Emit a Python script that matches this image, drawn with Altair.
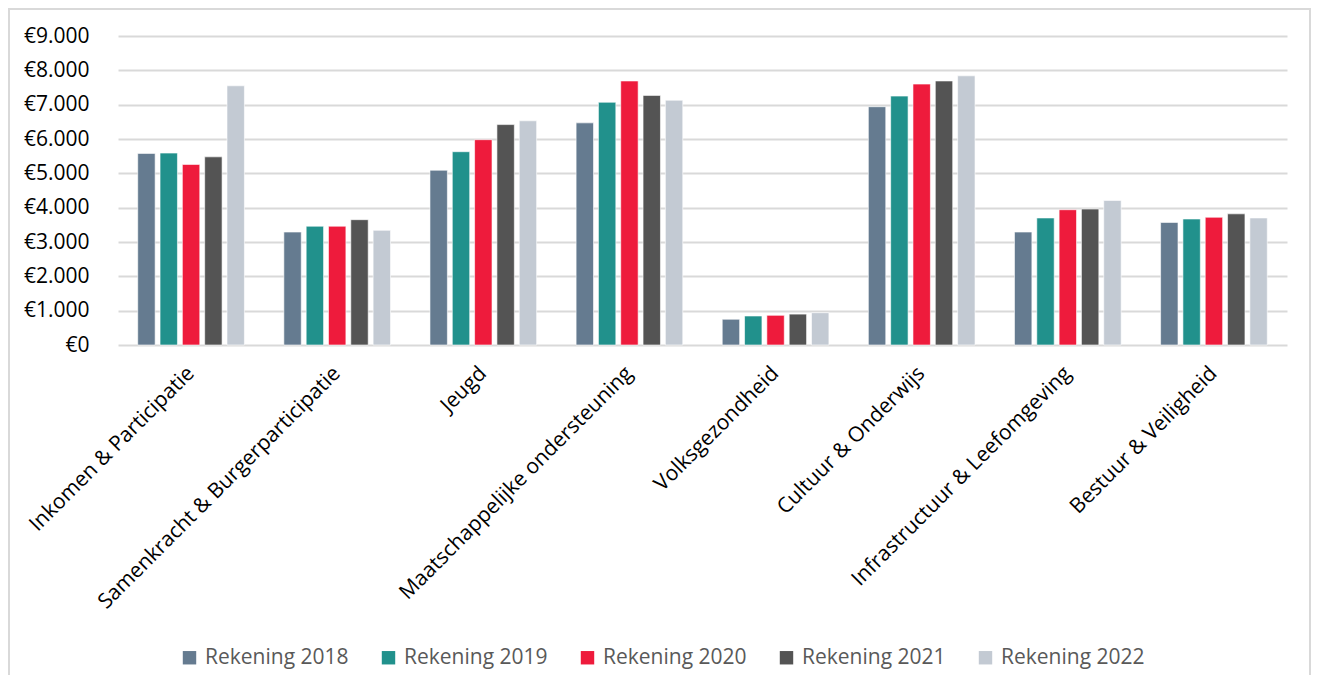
import altair as alt
import pandas as pd

categories = [
    "Inkomen & Participatie",
    "Samenkracht & Burgerparticipatie",
    "Jeugd",
    "Maatschappelijke ondersteuning",
    "Volksgezondheid",
    "Cultuur & Onderwijs",
    "Infrastructuur & Leefomgeving",
    "Bestuur & Veiligheid",
]
series = ["Rekening 2018", "Rekening 2019", "Rekening 2020", "Rekening 2021", "Rekening 2022"]
colors = ["#657B90", "#21918C", "#EE1B3C", "#545454", "#C3CAD3"]

r2018 = [5580, 3290, 5090, 6470, 750, 6940, 3290, 3570]
r2019 = [5590, 3460, 5630, 7070, 845, 7250, 3700, 3670]
r2020 = [5260, 3460, 5980, 7690, 865, 7600, 3940, 3720]
r2021 = [5480, 3650, 6420, 7270, 900, 7690, 3960, 3820]
r2022 = [7550, 3340, 6530, 7130, 940, 7840, 4210, 3700]

rows = []
for s, vals in zip(series, [r2018, r2019, r2020, r2021, r2022]):
    for c, v in zip(categories, vals):
        rows.append({"categorie": c, "reeks": s, "waarde": v})
df = pd.DataFrame(rows)

FONT = "Open Sans"

bars = alt.Chart(df).mark_bar(stroke="white", strokeWidth=0.6).encode(
    x=alt.X(
        "categorie:N",
        sort=categories,
        scale=alt.Scale(paddingInner=0.27, paddingOuter=0.135),
        axis=alt.Axis(
            title=None,
            labelAngle=-45,
            labelAlign="right",
            labelBaseline="middle",
            labelPadding=25,
            ticks=False,
            domain=False,
            labelFont=FONT,
            labelFontSize=21,
            labelColor="#000000",
            labelLimit=400,
        ),
    ),
    xOffset=alt.XOffset("reeks:N", sort=series, scale=alt.Scale(paddingInner=0.22, paddingOuter=0)),
    y=alt.Y(
        "waarde:Q",
        scale=alt.Scale(domain=[0, 9000], nice=False),
        axis=alt.Axis(
            title=None,
            values=[0, 1000, 2000, 3000, 4000, 5000, 6000, 7000, 8000, 9000],
            labelExpr='"€" + replace(format(datum.value, ",.0f"), ",", ".")',
            ticks=False,
            domain=False,
            grid=True,
            gridColor="#D9D9D9",
            gridWidth=2,
            labelFont=FONT,
            labelFontSize=21,
            labelColor="#000000",
            labelPadding=29,
        ),
    ),
    color=alt.Color(
        "reeks:N",
        sort=series,
        scale=alt.Scale(domain=series, range=colors),
        legend=alt.Legend(
            title=None,
            orient="none",
            direction="horizontal",
            legendX=61,
            legendY=611,
            symbolType="square",
            symbolSize=180,
            symbolStrokeWidth=0,
            labelFont=FONT,
            labelFontSize=21,
            labelColor="#595959",
            columnPadding=29,
            gridAlign="all",
            padding=0,
            labelOffset=5,
        ),
    ),
)

one = alt.Data(values=[{"f": 1}])
rule_style = dict(color="#D9D9D9", strokeWidth=2)
frame_left = alt.Chart(one).mark_rule(**rule_style).encode(
    x=alt.value(-109), y=alt.value(-27), y2=alt.value(660)
)
frame_right = alt.Chart(one).mark_rule(**rule_style).encode(
    x=alt.value(1192), y=alt.value(-27), y2=alt.value(660)
)
frame_top = alt.Chart(one).mark_rule(**rule_style).encode(
    x=alt.value(-110), x2=alt.value(1193), y=alt.value(-27)
)

chart = alt.layer(frame_left, frame_right, frame_top, bars).properties(
    width=1169,
    height=309,
    autosize=alt.AutoSizeParams(type="none"),
    padding={"left": 110, "top": 28, "right": 24, "bottom": 330},
).configure(background="white").configure_view(stroke=None)

chart.save("out.html", embed_options={"renderer": "svg", "actions": False})
